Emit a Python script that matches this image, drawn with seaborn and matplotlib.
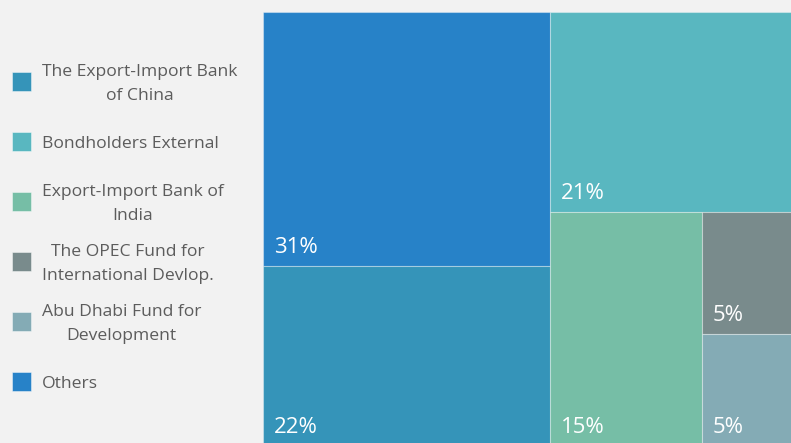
import numpy as np
import seaborn as sns
import matplotlib.pyplot as plt
from matplotlib.patches import Rectangle

# valores (% de la deuda externa) ordenados de mayor a menor para el treemap
acreedores = ['Others', 'The Export-Import Bank\nof China', 'Bondholders External',
              'Export-Import Bank of\nIndia', 'The OPEC Fund for\nInternational Devlop.',
              'Abu Dhabi Fund for\nDevelopment']
valores = [31.3, 22.2, 21.4, 15.3, 5.1, 4.7]
colores = ['#2782c8', '#3594b9', '#59b7c0', '#76bea6', '#798b8c', '#84abb5']

# orden de la leyenda
orden_leyenda = [1, 2, 3, 4, 5, 0]


def peor(fila, lado):
    s = sum(fila)
    return max(max(lado * lado * r / (s * s), s * s / (lado * lado * r)) for r in fila)


def squarify(vals, x, y, dx, dy):
    total = sum(vals)
    areas = [v * dx * dy / total for v in vals]
    rects = []
    while areas:
        lado = min(dx, dy)
        fila = [areas[0]]
        i = 1
        while i < len(areas) and peor(fila + [areas[i]], lado) <= peor(fila, lado):
            fila.append(areas[i])
            i += 1
        s = sum(fila)
        if dx >= dy:
            w = s / dy
            yy = y
            for a in fila:
                h = a / w
                rects.append((x, yy, w, h))
                yy += h
            x += w
            dx -= w
        else:
            h = s / dx
            xx = x
            for a in fila:
                w = a / h
                rects.append((xx, y, w, h))
                xx += w
            y += h
            dy -= h
        areas = areas[i:]
    return rects


sns.set_theme(style='white')
plt.rcParams['font.family'] = ['Open Sans', 'DejaVu Sans']

fig = plt.figure(figsize=(7.91, 4.43), dpi=100)
fig.patch.set_facecolor('#f2f2f2')

W, H = 536, 434
ax = fig.add_axes([263 / 791, -3 / 443, W / 791, H / 443])
ax.set_xlim(0, W)
ax.set_ylim(H, 0)
ax.axis('off')

rects = squarify(valores, 0, 0, W, H)
for (x, y, w, h), v, c in zip(rects, valores, colores):
    ax.add_patch(Rectangle((x, y), w, h, facecolor=c, edgecolor=(1, 1, 1, 0.35), linewidth=0.8))
    ax.text(x + 11, y + h - 13, f'{round(v)}%', color='white', fontsize=16,
            ha='left', va='baseline')

# leyenda a la izquierda
lax = fig.add_axes([0, 0, 263 / 791, 1])
lax.set_xlim(0, 263)
lax.set_ylim(443, 0)
lax.axis('off')
for k, idx in enumerate(orden_leyenda):
    yc = 81 + 60 * k
    lax.add_patch(Rectangle((12, yc - 9.5), 19, 19, facecolor=colores[idx],
                            edgecolor=(1, 1, 1, 0.5), linewidth=0.6))
    lax.text(42, yc + 3, acreedores[idx], color='#5c5c5c', fontsize=12.6,
             ha='left', va='center', multialignment='center', linespacing=1.65)

fig.savefig('out.png', dpi=100, facecolor=fig.get_facecolor())
